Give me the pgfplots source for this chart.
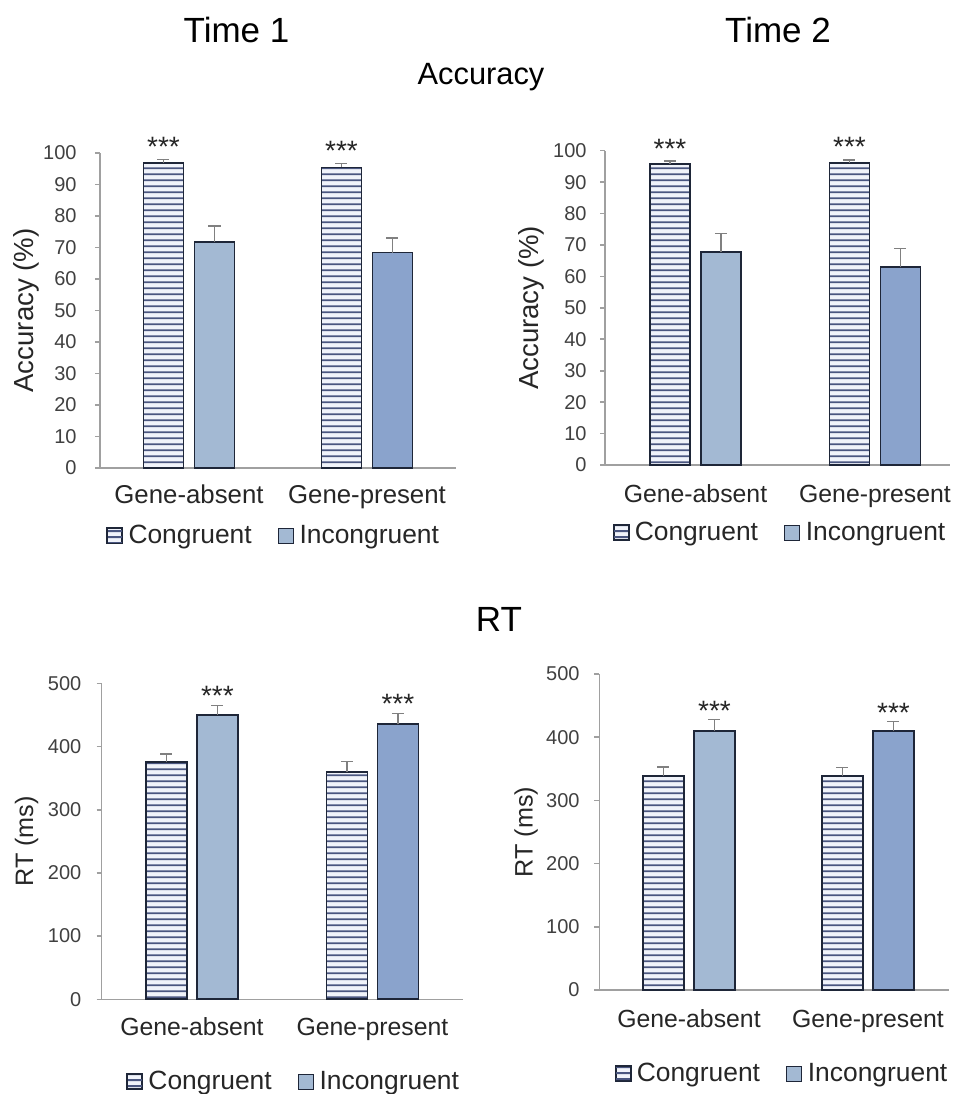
\documentclass[border=0pt]{standalone}
\usepackage{fontspec}
\setmainfont{Liberation Sans}
\usepackage{pgfplots}
\pgfplotsset{compat=1.18}
\usetikzlibrary{patterns.meta}

\definecolor{axisgray}{HTML}{A0A0A0}
\definecolor{errgray}{HTML}{808080}
\definecolor{baredge}{HTML}{1E2638}
\definecolor{stripe}{HTML}{4A5680}
\definecolor{stripebg}{HTML}{F0F3FA}
\definecolor{incA}{HTML}{A3B9D3}
\definecolor{incB}{HTML}{8AA3CC}
\definecolor{ticktext}{HTML}{404040}
\definecolor{labeltext}{HTML}{262626}

\tikzdeclarepattern{
  name=hstripes,
  type=uncolored,
  bounding box={(0pt,0pt) and (10pt,3.15pt)},
  tile size={(10pt,3.15pt)},
  code={
    \pgfsetlinewidth{1pt}
    \pgfpathmoveto{\pgfqpoint{-1pt}{1.575pt}}
    \pgfpathlineto{\pgfqpoint{11pt}{1.575pt}}
    \pgfusepath{stroke}
  }
}

\tikzset{stars/.style={anchor=base, font=\fontsize{14}{16}\selectfont, text=labeltext, yshift=1.5pt}}

\pgfplotsset{
  panel/.style={
    scale only axis, ybar, bar width=20pt, clip=false,
    anchor=south west,
    axis x line*=bottom, axis y line*=left,
    axis line style={-, draw=axisgray, line width=0.8pt},
    ymin=0,
    xtick={0,1}, xticklabels={Gene-absent,Gene-present},
    xtick style={draw=none},
    ytick style={draw=axisgray, line width=0.8pt},
    tick align=outside, major tick length=2.5pt,
    /pgf/number format/assume math mode=true,
    yticklabel style={anchor=east, inner sep=0pt, font=\fontsize{10}{12}\selectfont, text=ticktext},
    xticklabel style={anchor=base, font=\fontsize{12.4}{14}\selectfont, text=labeltext},
    ylabel style={anchor=center, text=labeltext},
    legend columns=2,
    legend image code/.code={\draw[##1, line width=0.6pt] (0pt,0pt) rectangle (7.5pt,7.5pt);},
    legend style={draw=none, fill=none, inner sep=0pt, outer sep=0pt,
      font=\fontsize{13.2}{15}\selectfont, text=labeltext,
      nodes={inner sep=0pt},
      cells={anchor=base west},
      /tikz/every odd column/.append style={column sep=2.8pt},
      /tikz/every even column/.append style={column sep=13pt},
      at={(axis description cs:0,0)}, anchor=west},
  },
  errs/.style={
    error bars/y dir=plus, error bars/y explicit,
    error bars/error bar style={line width=0.8pt, draw=errgray},
    error bars/error mark=-,
    error bars/error mark options={rotate=90, line width=0.8pt, draw=errgray, mark size=3pt},
  },
  cong/.style={draw=baredge, line width=0.9pt, preaction={fill=stripebg},
    pattern={hstripes}, pattern color=stripe, bar shift=-12.75pt, errs},
  incA/.style={draw=baredge, line width=0.9pt, fill=incA, bar shift=12.75pt, errs},
  incB/.style={draw=baredge, line width=0.9pt, fill=incB, bar shift=12.75pt, errs},
}

\begin{document}
\begin{tikzpicture}
\path[use as bounding box] (0,0) rectangle (477pt,547pt);

% titles
\node[anchor=base, font=\fontsize{17.5}{20}\selectfont] at (118.25pt,525.5pt) {Time 1};
\node[anchor=base, font=\fontsize{17.5}{20}\selectfont] at (389pt,525.5pt) {Time 2};
\node[anchor=base, font=\fontsize{15.4}{18}\selectfont] at (240.5pt,504.85pt) {Accuracy};
\node[anchor=base, font=\fontsize{17.5}{20}\selectfont] at (249.5pt,231pt) {RT};

% Time 1 accuracy
\begin{axis}[panel, at={(50pt,313pt)}, width=178pt, height=157.5pt,
  xmin=-0.5, xmax=1.5, ymax=100, ytick={0,10,...,100},
  yticklabel style={xshift=-9pt},
  xticklabel style={yshift=-15.2pt, font=\fontsize{12.9}{15}\selectfont},
  ylabel={Accuracy (\%)},
  ylabel style={at={(axis description cs:-0.2065,0.5)}, font=\fontsize{13.8}{16}\selectfont},
  legend style={xshift=3.35pt, yshift=-33.75pt}]
\addplot[cong] coordinates {(0,96.9) +- (0,1.0) (1,95.4) +- (0,1.3)};
\addplot[incA] coordinates {(0,71.8) +- (0,5.1)};
\addplot[incB, forget plot] coordinates {(1,68.4) +- (0,4.6)};
\legend{Congruent,Incongruent}
\node[stars, xshift=-12.75pt] at (axis cs:0,97.9) {***};
\node[stars, xshift=-12.75pt] at (axis cs:1,96.7) {***};
\end{axis}

% Time 2 accuracy
\begin{axis}[panel, at={(302.5pt,314.5pt)}, width=172.5pt, height=157.15pt,
  xmin=-0.504, xmax=1.418, ymax=100, ytick={0,10,...,100},
  yticklabel style={xshift=-6.5pt},
  xticklabel style={yshift=-16.2pt},
  ylabel={Accuracy (\%)},
  ylabel style={at={(axis description cs:-0.2130,0.5)}, font=\fontsize{13.8}{16}\selectfont},
  legend style={xshift=4pt, yshift=-33.75pt}]
\addplot[cong] coordinates {(0,95.7) +- (0,1.0) (1,96.2) +- (0,0.9)};
\addplot[incA] coordinates {(0,67.7) +- (0,6.0)};
\addplot[incB, forget plot] coordinates {(1,62.9) +- (0,6.0)};
\legend{Congruent,Incongruent}
\node[stars, xshift=-12.75pt] at (axis cs:0,96.7) {***};
\node[stars, xshift=-12.75pt] at (axis cs:1,97.1) {***};
\end{axis}

% Time 1 RT
\begin{axis}[panel, at={(50.85pt,47.35pt)}, width=180.5pt, height=158pt,
  bar width=20.5pt,
  xmin=-0.5, xmax=1.5, ymax=500, ytick={0,100,...,500},
  yticklabel style={xshift=-7.5pt},
  xticklabel style={yshift=-15.65pt},
  ylabel={RT (ms)},
  ylabel style={at={(axis description cs:-0.2083,0.5)}, font=\fontsize{12.6}{15}\selectfont},
  legend style={xshift=12.5pt, yshift=-41.1pt}]
\addplot[cong] coordinates {(0,375) +- (0,13) (1,360) +- (0,16)};
\addplot[incA] coordinates {(0,450) +- (0,15)};
\addplot[incB, forget plot] coordinates {(1,435) +- (0,17)};
\legend{Congruent,Incongruent}
\node[stars, xshift=12.75pt] at (axis cs:0,460) {***};
\node[stars, xshift=12.75pt] at (axis cs:1,447) {***};
\end{axis}

% Time 2 RT
\begin{axis}[panel, at={(299.65pt,52pt)}, width=174.6pt, height=158pt,
  bar width=20.5pt,
  xmin=-0.501, xmax=1.45, ymax=500, ytick={0,100,...,500},
  yticklabel style={xshift=-7.2pt},
  xticklabel style={yshift=-16.15pt},
  ylabel={RT (ms)},
  ylabel style={at={(axis description cs:-0.2096,0.5)}, font=\fontsize{12.6}{15}\selectfont},
  legend style={xshift=7.85pt, yshift=-41.75pt}]
\addplot[cong] coordinates {(0,338.6) +- (0,14.5) (1,338) +- (0,14)};
\addplot[incA] coordinates {(0,410) +- (0,18)};
\addplot[incB, forget plot] coordinates {(1,410) +- (0,15)};
\legend{Congruent,Incongruent}
\node[stars, xshift=12.75pt] at (axis cs:0,421) {***};
\node[stars, xshift=12.75pt] at (axis cs:1,419) {***};
\end{axis}
\end{tikzpicture}
\end{document}
